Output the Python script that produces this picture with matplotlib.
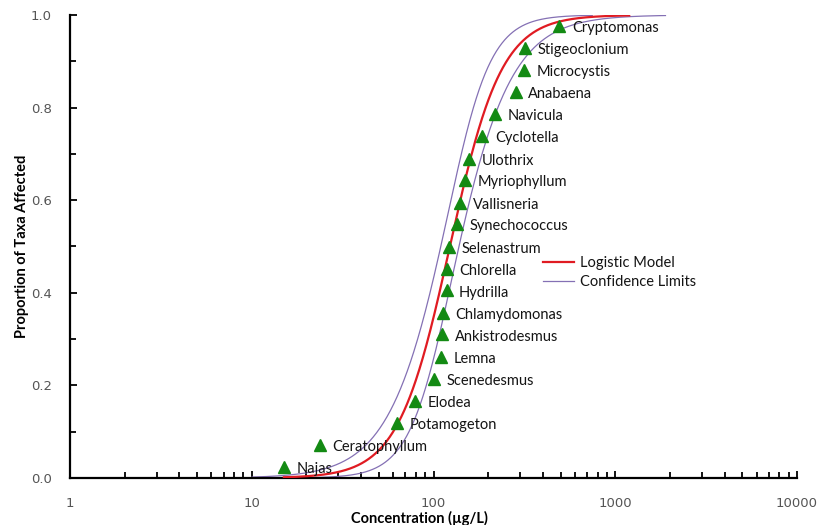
import numpy as np
import matplotlib
matplotlib.use("Agg")
import matplotlib.pyplot as plt
from matplotlib.ticker import LogLocator, FixedLocator, NullFormatter, MultipleLocator, FormatStrFormatter

# ---- data ----
taxa = ["Najas", "Ceratophyllum", "Potamogeton", "Elodea", "Scenedesmus", "Lemna",
        "Ankistrodesmus", "Chlamydomonas", "Hydrilla", "Chlorella", "Selenastrum",
        "Synechococcus", "Vallisneria", "Myriophyllum", "Ulothrix", "Cyclotella",
        "Navicula", "Anabaena", "Microcystis", "Stigeoclonium", "Cryptomonas"]
conc = [15.0, 23.7, 62.7, 79.1, 101, 110, 111.4, 113, 118, 118.5, 122,
        135, 140, 149, 157, 186, 218, 284, 315, 318, 492]
prop = [0.024, 0.071, 0.119, 0.167, 0.214, 0.262, 0.310, 0.357, 0.405, 0.452, 0.500,
        0.548, 0.595, 0.643, 0.690, 0.738, 0.786, 0.833, 0.881, 0.929, 0.976]

# logistic model (log10 concentration) and confidence band parameters
model_mu = 2.09
model_s = 0.142
ci_v0 = 0.0025
ci_v1 = 0.00105
model_range = (15, 1200)
ci_upper_range = (10, 750)
ci_lower_range = (10, 1900)

xticks = [1, 10, 100, 1000, 10000]
xtick_labels = ["1", "10", "100", "1000", "10000"]
yticks = [0.0, 0.2, 0.4, 0.6, 0.8, 1.0]

# ---- figure ----
fig = plt.figure(figsize=(8.26, 5.25), dpi=100)
ax = fig.add_axes([70/826, 47/525, 727/826, 463/525])

L = np.linspace(-9, 9, 800)
P = 1/(1+np.exp(-L))
center = model_mu + model_s*L
half = np.sqrt(ci_v0 + ci_v1*L**2)

def clip(logx, lo, hi):
    x = 10**logx
    m = (x >= lo) & (x <= hi)
    return x[m], P[m]

xm, pm = clip(center, *model_range)
xu, pu = clip(center - half, *ci_upper_range)
xl, pl = clip(center + half, *ci_lower_range)

purple = "#8470B4"
ax.plot(xu, pu, color=purple, lw=0.9, zorder=2, label="Confidence Limits")
ax.plot(xl, pl, color=purple, lw=0.9, zorder=2)
ax.plot(xm, pm, color="#E01B22", lw=1.6, zorder=3, label="Logistic Model")

ax.plot(conc, prop, linestyle="none", marker="^", markersize=8,
        color="#138A13", zorder=4)

label_font = dict(family=["Lato", "DejaVu Sans"], fontsize=10.5, color="#141414")
for name, xv, yv in zip(taxa, conc, prop):
    ax.annotate(name, (xv, yv), xytext=(9, -1.5), textcoords="offset points",
                va="center", ha="left", zorder=5, **label_font)

ax.set_xscale("log")
ax.set_xlim(1, 10000)
ax.set_ylim(0, 1.0)

ax.xaxis.set_major_locator(FixedLocator(xticks))
ax.set_xticklabels(xtick_labels)
ax.xaxis.set_minor_locator(LogLocator(base=10, subs=np.arange(2, 10)))
ax.xaxis.set_minor_formatter(NullFormatter())
ax.yaxis.set_major_locator(FixedLocator(yticks))
ax.yaxis.set_major_formatter(FormatStrFormatter("%.1f"))
ax.yaxis.set_minor_locator(MultipleLocator(0.1))

for s in ["top", "right"]:
    ax.spines[s].set_visible(False)
for s in ["left", "bottom"]:
    ax.spines[s].set_linewidth(1.6)
    ax.spines[s].set_color("black")

ax.tick_params(axis="both", which="both", direction="in", width=1.3, color="black")
ax.tick_params(axis="both", which="major", length=5, labelsize=9.5, labelcolor="#555555")
ax.tick_params(axis="both", which="minor", length=4)
ax.tick_params(axis="x", which="major", pad=14)
ax.tick_params(axis="y", which="major", pad=13)
for t in ax.get_xticklabels() + ax.get_yticklabels():
    t.set_family(["DejaVu Sans"])

ax.set_xlabel("Concentration (µg/L)", fontsize=10.5, fontweight="bold",
              family=["Lato", "DejaVu Sans"], labelpad=0)
ax.xaxis.set_label_coords((419 - 70) / 727, -0.072)
ax.set_ylabel("Proportion of Taxa Affected", fontsize=10.5, fontweight="bold",
              family=["Lato", "DejaVu Sans"])
ax.yaxis.set_label_coords(-(70 - 29) / 727, 0.5)

handles, labels = ax.get_legend_handles_labels()
leg = ax.legend(handles[::-1], labels[::-1], loc="upper left",
                bbox_to_anchor=(0.633, 0.508), frameon=False,
                prop=dict(family=["Lato", "DejaVu Sans"], size=10.5),
                handlelength=2.1, handletextpad=0.4, labelspacing=0.35)
for t in leg.get_texts():
    t.set_color("#141414")

fig.savefig("out.png", dpi=100)
